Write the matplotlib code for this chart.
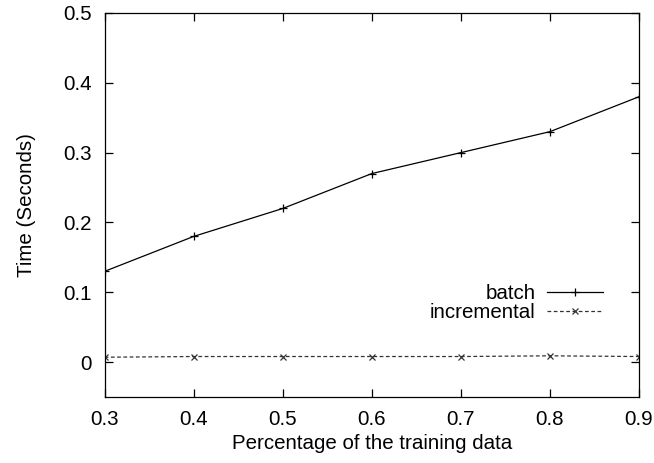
import matplotlib
matplotlib.use("Agg")
import matplotlib.pyplot as plt

plt.rcParams['font.family'] = ['Liberation Sans', 'DejaVu Sans']
plt.rcParams['font.size'] = 14.8

fraction = [0.3, 0.4, 0.5, 0.6, 0.7, 0.8, 0.9]
batch = [0.13, 0.18, 0.22, 0.27, 0.30, 0.33, 0.38]
incremental = [0.007, 0.008, 0.008, 0.008, 0.008, 0.009, 0.008]

fig = plt.figure(figsize=(6.54, 4.63), dpi=100)
ax = fig.add_axes([0.160, 0.1425, 0.817, 0.8295])

ax.plot(fraction, batch, color="black", linewidth=0.9, marker="+",
        markersize=6, markeredgewidth=0.9, label="batch")
ax.plot(fraction, incremental, color="#333333", linewidth=0.9, linestyle=(0, (3, 2)),
        marker="x", markersize=5, markeredgewidth=0.9, label="incremental")

ax.set_xlim(0.3, 0.9)
ax.set_ylim(-0.05, 0.5)
ax.set_xticks(fraction)
ax.set_xticklabels(["0.3", "0.4", "0.5", "0.6", "0.7", "0.8", "0.9"])
ax.set_yticks([0, 0.1, 0.2, 0.3, 0.4, 0.5])
ax.set_yticklabels(["0", "0.1", "0.2", "0.3", "0.4", "0.5"])
ax.tick_params(direction="in", length=6, width=0.9, top=True, right=True, pad=9)
for s in ax.spines.values():
    s.set_linewidth(0.9)

ax.set_xlabel("Percentage of the training data", labelpad=4)
ax.set_ylabel("Time (Seconds)", labelpad=20)

ax.legend(loc="center right", bbox_to_anchor=(0.9326, 0.245), frameon=False,
          markerfirst=False, handlelength=2.7, handletextpad=0.58,
          labelspacing=0.0, borderpad=0, borderaxespad=0)

plt.savefig("out.png", dpi=100)
